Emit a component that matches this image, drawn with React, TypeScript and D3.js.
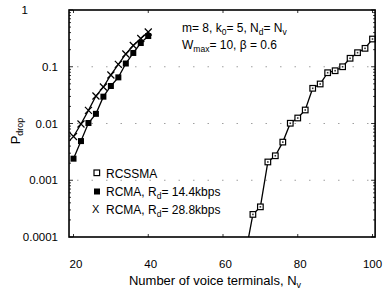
import React from 'react';
import * as d3 from 'd3';

const W = 385;
const H = 289;

const nCsma = [66, 68, 70, 72, 74, 76, 78, 80, 82, 84, 86, 88, 90, 92, 94, 96, 98, 100];
const pCsma = [0.00005, 0.00025, 0.00034, 0.0021, 0.0027, 0.0047, 0.0101, 0.0125, 0.0173, 0.0417, 0.0497, 0.0785, 0.0851, 0.1, 0.141, 0.177, 0.211, 0.308];

const nRcma = [20, 22, 24, 26, 28, 30, 32, 34, 36, 38, 40];
const pRcma144 = [0.0024, 0.0049, 0.0102, 0.0148, 0.0297, 0.0458, 0.065, 0.114, 0.175, 0.262, 0.348];
const pRcma288 = [0.0059, 0.0098, 0.017, 0.0305, 0.044, 0.0716, 0.11, 0.168, 0.237, 0.315, 0.41];

const xTicks = [20, 40, 60, 80, 100];
const yTicks = [1, 0.1, 0.01, 0.001, 0.0001];
const yTickLabels = ['1', '0.1', '0.01', '0.001', '0.0001'];

const FONT = "'Liberation Sans', Arial, sans-serif";

export default function App() {
  const x = d3.scaleLinear().domain([20, 100]).range([73.5, 372.5]);
  const y = d3.scaleLog().domain([0.0001, 1]).range([237, 10]);
  const left = x(18.8);
  const right = x(100.7);
  const top = y(1);
  const bottom = y(0.0001);

  const line = d3
    .line<[number, number]>()
    .x((d) => x(d[0]))
    .y((d) => y(d[1]));

  const csma = nCsma.map((n, i) => [n, pCsma[i]] as [number, number]);
  const r144 = nRcma.map((n, i) => [n, pRcma144[i]] as [number, number]);
  const r288 = nRcma.map((n, i) => [n, pRcma288[i]] as [number, number]);
  const inside = (d: [number, number]) => d[1] >= 0.0001;

  const minor: number[] = [];
  [0.0001, 0.001, 0.01, 0.1].forEach((b) => {
    for (let k = 2; k < 10; k++) minor.push(b * k);
  });

  return (
    <svg
      width={W}
      height={H}
      style={{ position: 'absolute', left: 0, top: 0, background: '#fff' }}
      fontFamily={FONT}
    >
      <defs>
        <clipPath id="plotClip">
          <rect x={left} y={top} width={right - left} height={bottom - top} />
        </clipPath>
      </defs>

      {/* faint dotted grid */}
      <g stroke="#888" strokeWidth={0.8} strokeDasharray="1.5,13">
        {yTicks.slice(1, 4).map((t) => (
          <line key={t} x1={left + 8} x2={right - 4} y1={y(t)} y2={y(t)} />
        ))}
      </g>

      {/* ticks */}
      <g stroke="#000" strokeWidth={0.8}>
        {xTicks.map((t) => (
          <g key={t}>
            <line x1={x(t)} x2={x(t)} y1={top} y2={top + 3} />
            <line x1={x(t)} x2={x(t)} y1={bottom} y2={bottom - 3} />
          </g>
        ))}
        {yTicks.map((t) => (
          <g key={t}>
            <line x1={left} x2={left + 4} y1={y(t)} y2={y(t)} />
            <line x1={right} x2={right - 4} y1={y(t)} y2={y(t)} />
          </g>
        ))}
        {minor.map((t) => (
          <g key={t}>
            <line x1={left} x2={left + 2} y1={y(t)} y2={y(t)} />
            <line x1={right} x2={right - 2} y1={y(t)} y2={y(t)} />
          </g>
        ))}
      </g>

      {/* data */}
      <g clipPath="url(#plotClip)" fill="none" stroke="#000" strokeWidth={1.3}>
        <path d={line(csma) ?? ''} />
        <path d={line(r144) ?? ''} />
        <path d={line(r288) ?? ''} />
      </g>
      <g>
        {csma.filter(inside).map((d, i) => (
          <g key={i}>
            <rect x={x(d[0]) - 2.8} y={y(d[1]) - 2.8} width={5.6} height={5.6} fill="#fff" stroke="#000" strokeWidth={1.2} />
            <rect x={x(d[0]) - 0.8} y={y(d[1]) - 0.8} width={1.6} height={1.6} fill="#333" />
          </g>
        ))}
        {r144.map((d, i) => (
          <rect key={i} x={x(d[0]) - 3} y={y(d[1]) - 3} width={6} height={6} fill="#000" />
        ))}
        {r288.map((d, i) => (
          <path
            key={i}
            d={`M${x(d[0]) - 3.5},${y(d[1]) - 3.5}L${x(d[0]) + 3.5},${y(d[1]) + 3.5}M${x(d[0]) - 3.5},${y(d[1]) + 3.5}L${x(d[0]) + 3.5},${y(d[1]) - 3.5}`}
            stroke="#000"
            strokeWidth={1.2}
          />
        ))}
      </g>

      {/* frame */}
      <rect x={left} y={top} width={right - left} height={bottom - top} fill="none" stroke="#000" strokeWidth={1.6} />

      {/* y tick labels */}
      <g fontSize={11.5} fill="#000" textAnchor="end">
        {yTicks.map((t, i) => (
          <text key={t} x={t === 1 ? 28 : 58} y={y(t) + 4}>
            {yTickLabels[i]}
          </text>
        ))}
      </g>
      {/* x tick labels */}
      <g fontSize={11.5} fill="#000" textAnchor="middle">
        {xTicks.map((t) => (
          <text key={t} x={x(t) + (t === 100 ? 0 : 2.5)} y={268}>
            {t}
          </text>
        ))}
      </g>

      {/* axis titles */}
      <text x={215} y={285} fontSize={13} textAnchor="middle">
        Number of voice terminals, N
        <tspan fontSize={9} dy={3}>v</tspan>
      </text>
      <text transform="translate(20,131) rotate(-90)" fontSize={13} textAnchor="middle">
        P
        <tspan fontSize={9} dy={3}>drop</tspan>
      </text>

      {/* parameters */}
      <g fontSize={12} fill="#000">
        <text x={182} y={32}>
          m= 8, k<tspan fontSize={8.5} dy={3}>0</tspan>
          <tspan dy={-3}>= 5, N</tspan>
          <tspan fontSize={8.5} dy={3}>d</tspan>
          <tspan dy={-3}>= N</tspan>
          <tspan fontSize={8.5} dy={3}>v</tspan>
        </text>
        <text x={182} y={49}>
          W<tspan fontSize={8.5} dy={3}>max</tspan>
          <tspan dy={-3}>= 10, β = 0.6</tspan>
        </text>
      </g>

      {/* legend */}
      <g fontSize={12} fill="#000">
        <rect x={94} y={170} width={5.6} height={5.6} fill="#fff" stroke="#000" strokeWidth={1.2} />
        <text x={106} y={177.5}>RCSSMA</text>
        <rect x={94} y={188.5} width={6} height={6} fill="#000" />
        <text x={106} y={196}>
          RCMA, R<tspan fontSize={8.5} dy={3}>d</tspan>
          <tspan dy={-3}>= 14.4kbps</tspan>
        </text>
        <text x={92} y={213} fontSize={11}>X</text>
        <text x={106} y={214}>
          RCMA, R<tspan fontSize={8.5} dy={3}>d</tspan>
          <tspan dy={-3}>= 28.8kbps</tspan>
        </text>
      </g>
    </svg>
  );
}
